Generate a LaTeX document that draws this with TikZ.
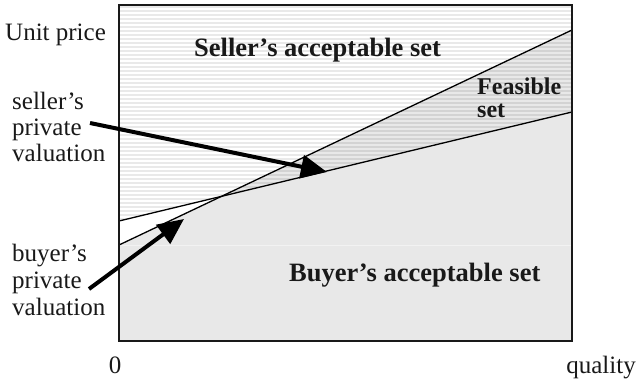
\documentclass[tikz,border=0pt]{standalone}
\usepackage{fontspec}
\setmainfont{Liberation Serif}
\usetikzlibrary{arrows.meta}
\definecolor{buyerfill}{gray}{0.91}
\definecolor{seamline}{gray}{0.95}
\definecolor{ink}{gray}{0.1}
\tikzset{
  axislabel/.style={inner sep=0pt, text=ink, font=\fontsize{25}{28}\selectfont},
  regionlabel/.style={inner sep=0pt, text=ink, font=\fontsize{26.5}{30}\bfseries\selectfont},
  feaslabel/.style={inner sep=0pt, text=ink, font=\fontsize{24}{28}\bfseries\selectfont},
  hatchline/.style={line width=2pt, draw=black, draw opacity=0.085},
  valline/.style={line width=1.3pt, draw=black},
  frame/.style={line width=1.8pt, draw=black!90},
  pointer/.style={line width=4pt, draw=black, -{Triangle[length=26pt,width=23pt]}}
}
\begin{document}
\begin{tikzpicture}[x=1pt,y=-1pt]
\useasboundingbox (0,0) rectangle (637,379);

% plot frame corners
\coordinate (tl) at (119,5);
\coordinate (tr) at (572,5);
\coordinate (br) at (572,341);
\coordinate (bl) at (119,341);
% seller's valuation (shallow) and buyer's valuation (steep)
\coordinate (sv0) at (119,221);
\coordinate (sv1) at (572,112);
\coordinate (bv0) at (119,245);
\coordinate (bv1) at (572,30);

% buyer's acceptable set: below the buyer's valuation
\fill[buyerfill] (bv0) -- (bv1) -- (br) -- (bl) -- cycle;
\coordinate (seamL) at (119,245);
\coordinate (seamR) at (572,245);
\draw[seamline, line width=0.8pt] (seamL) -- (seamR);

% seller's acceptable set: horizontal hatching above the seller's valuation
\begin{scope}
  \clip (tl) -- (tr) -- (sv1) -- (sv0) -- cycle;
  \foreach \yy in {7,11,...,223} {
    \draw[hatchline] (119,\yy) -- (572,\yy);
  }
\end{scope}

% valuation lines
\draw[valline] (sv0) -- (sv1);
\draw[valline] (bv0) -- (bv1);

% frame
\draw[frame] (tl) rectangle (br);

% region labels
\node[regionlabel, anchor=base west] (sellerset) at (194,57) {Seller’s acceptable set};
\node[feaslabel, anchor=base west] (feas1) at (477,95) {Feasible};
\node[feaslabel, anchor=base west] (feas2) at (477,118) {set};
\node[regionlabel, anchor=base west] (buyerset) at (289,282) {Buyer’s acceptable set};

% axis labels
\node[axislabel, anchor=base west] (yaxis) at (5,41) {Unit price};
\node[axislabel, anchor=base] (origin) at (115,373) {0};
\node[axislabel, anchor=base east] (xaxis) at (636,373) {quality};

% seller's private valuation label
\node[axislabel, anchor=base west] (sl1) at (12,110) {seller’s};
\node[axislabel, anchor=base west] (sl2) at (12,136) {private};
\node[axislabel, anchor=base west] (sl3) at (12,162) {valuation};

% buyer's private valuation label
\node[axislabel, anchor=base west] (bl1) at (12,262) {buyer’s};
\node[axislabel, anchor=base west] (bl2) at (12,289) {private};
\node[axislabel, anchor=base west] (bl3) at (12,316) {valuation};

% pointers from the labels to the valuation lines
\coordinate (sellerFrom) at (90,123);
\coordinate (sellerTip) at (327,172);
\coordinate (buyerFrom) at (89,289);
\coordinate (buyerTip) at (184,219);
\draw[pointer] (sellerFrom) -- (sellerTip);
\draw[pointer] (buyerFrom) -- (buyerTip);
\end{tikzpicture}
\end{document}
